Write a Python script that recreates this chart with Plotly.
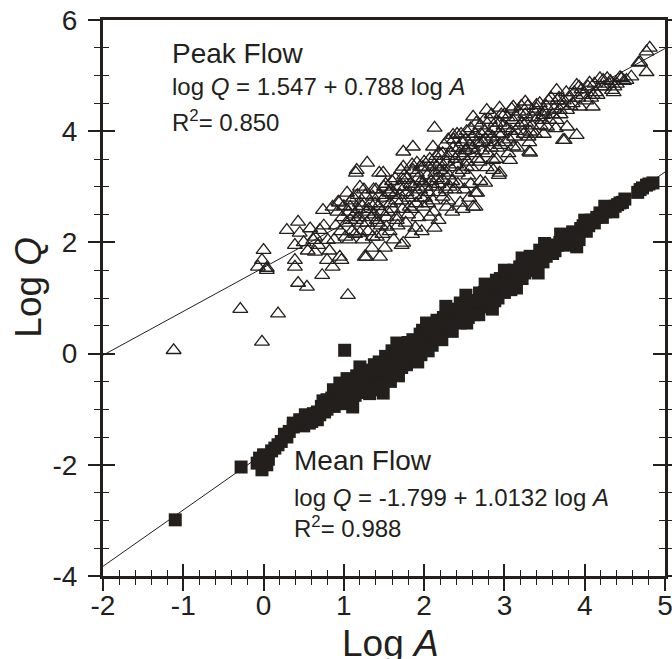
import plotly.graph_objects as go

# ---------------- data ----------------
peak_points = [
    (-1.12, 0.06), (-0.29, 0.80), (-0.02, 0.21), (0.18, 0.72), (1.05, 1.05),
    (0.00, 1.86), (-0.02, 1.68), (-0.07, 1.56), (0.04, 1.54), (0.04, 1.50),
    (0.29, 2.22), (0.39, 1.56), (0.43, 1.27), (0.54, 1.20), (0.45, 2.17),
    (0.43, 2.37), (0.62, 2.04), (0.39, 1.95), (0.39, 1.68), (0.64, 1.83),
    (0.64, 2.10), (0.73, 1.41), (0.79, 1.68), (0.86, 1.56), (0.95, 1.74),
    (0.80, 2.04), (0.74, 2.58), (0.86, 2.64), (0.70, 2.22), (0.93, 2.73),
    (0.97, 1.68), (0.94, 2.71),
    (1.16, 3.30), (1.29, 3.43), (1.08, 2.40), (1.20, 2.17), (1.26, 1.74),
    (1.35, 1.90), (1.45, 1.74), (1.51, 1.90), (1.72, 1.95), (1.41, 2.10),
    (1.41, 2.40), (1.53, 2.28), (1.66, 2.46), (1.89, 2.26), (2.13, 2.26),
    (2.07, 2.46), (1.99, 2.64), (1.82, 2.64), (1.49, 3.25), (1.74, 3.36),
    (1.91, 3.43), (2.16, 3.36), (1.57, 2.89), (1.36, 2.82), (1.20, 3.00),
    (1.04, 2.89), (1.08, 2.64), (1.74, 3.12), (1.99, 3.07), (2.23, 3.12),
    (2.23, 2.82), (2.28, 2.64), (1.20, 2.71), (1.74, 1.99), (1.74, 3.63),
    (1.86, 3.72), (1.44, 3.25), (1.15, 3.25), (1.28, 1.74),
    (2.13, 4.06), (2.61, 4.26), (2.78, 4.38), (2.94, 4.42), (3.11, 4.44),
    (3.26, 4.53), (3.40, 4.47), (3.65, 4.74), (3.90, 4.83), (4.06, 4.87),
    (3.73, 3.84), (3.90, 3.93), (3.65, 4.20), (3.48, 4.29), (3.32, 3.99),
    (3.32, 3.61), (3.11, 3.72), (2.94, 3.25), (2.76, 3.07), (2.66, 2.89),
    (2.45, 2.71), (2.36, 3.93), (2.11, 3.72), (2.53, 3.66), (2.69, 3.79),
    (2.86, 3.48), (3.07, 3.48), (2.53, 3.36), (2.20, 3.30), (1.95, 3.36),
    (2.32, 3.00), (2.61, 2.64), (3.53, 4.08), (3.69, 4.38), (2.64, 2.64),
    (2.93, 3.21), (3.31, 3.63), (2.64, 2.89),
    (4.81, 5.50), (4.77, 5.43), (4.69, 5.24), (4.77, 5.06), (4.44, 4.97),
    (4.28, 4.95), (4.19, 4.95), (4.34, 4.74), (4.10, 4.65), (3.94, 4.44),
    (4.10, 4.44), (3.78, 4.38), (3.78, 4.08), (3.75, 3.84), (4.67, 5.23),
    (4.23, 4.92), (3.93, 4.80), (4.49, 4.90), (4.58, 4.98), (4.40, 4.85),
    (0.90, 2.30), (0.98, 2.45), (1.02, 2.10), (1.06, 2.55), (1.10, 2.20),
    (1.12, 2.80), (1.15, 2.40), (1.18, 2.60), (1.22, 2.35), (1.25, 2.95),
    (1.28, 2.55), (1.30, 2.20), (1.33, 2.70), (1.38, 2.50), (1.40, 2.95),
    (1.43, 2.65), (1.46, 2.30), (1.50, 2.80), (1.52, 3.05), (1.55, 2.55),
    (1.58, 2.70), (1.60, 3.10), (1.63, 2.85), (1.66, 2.40), (1.69, 3.00),
    (1.72, 2.75), (1.75, 3.20), (1.78, 2.90), (1.80, 2.50), (1.83, 3.05),
    (1.86, 3.30), (1.88, 2.85), (1.92, 3.15), (1.95, 2.95), (1.98, 3.35),
    (2.01, 2.80), (2.04, 3.20), (2.07, 3.50), (2.10, 3.00), (2.13, 3.40),
    (2.16, 3.15), (2.19, 3.60), (2.22, 3.35), (2.25, 3.75), (2.28, 3.45),
    (2.31, 3.20), (2.34, 3.60), (2.37, 3.85), (2.40, 3.40), (2.43, 3.70),
    (2.46, 3.95), (2.49, 3.55), (2.52, 3.85), (2.55, 3.20), (2.58, 4.05),
    (2.61, 3.70), (2.64, 3.95), (2.67, 3.50), (2.70, 4.10), (2.73, 3.80),
    (2.76, 4.00), (2.79, 3.60), (2.82, 4.20), (2.85, 3.90), (2.88, 4.05),
    (2.91, 3.70), (2.94, 4.15), (2.97, 3.95), (3.00, 4.30), (3.03, 4.05),
    (3.06, 3.85), (3.10, 4.20), (3.14, 4.00), (3.18, 4.35), (3.22, 4.15),
    (3.26, 4.30), (3.30, 3.90), (3.35, 4.25), (3.40, 4.40), (3.45, 4.10),
    (3.50, 4.35), (3.55, 4.55), (3.60, 4.30), (3.66, 4.55), (3.72, 4.45),
    (3.80, 4.60), (3.85, 4.50), (3.98, 4.65), (4.02, 4.55), (4.14, 4.70),
    (4.20, 4.80), (4.30, 4.85), (4.37, 4.80),
    (2.05, 2.70), (2.12, 2.55), (2.18, 2.90), (2.30, 2.75), (2.38, 2.95),
    (2.42, 3.05), (2.50, 2.95), (2.56, 2.80),
    (0.50, 2.00), (0.55, 1.85), (0.58, 2.25), (0.68, 1.95), (0.75, 2.30),
    (0.82, 1.85), (0.88, 2.05),
    (0.92, 2.55), (0.96, 2.20), (1.00, 2.65), (1.03, 2.35), (1.07, 2.05),
    (1.09, 2.75), (1.13, 2.50), (1.14, 2.15), (1.17, 2.85), (1.19, 2.45),
    (1.23, 2.65), (1.24, 2.05), (1.27, 2.85), (1.29, 2.35), (1.31, 2.60),
    (1.34, 2.45), (1.36, 2.10), (1.37, 2.95), (1.39, 2.70), (1.42, 2.35),
    (1.44, 2.85), (1.47, 2.55), (1.48, 2.15), (1.50, 3.00),
    (1.53, 2.45), (1.56, 2.90), (1.57, 2.20), (1.59, 2.95), (1.61, 2.60),
    (1.64, 3.15), (1.65, 2.75), (1.67, 2.30), (1.70, 2.85), (1.71, 3.30),
    (1.73, 2.60), (1.76, 3.00), (1.77, 2.35), (1.79, 3.15), (1.81, 2.80),
    (1.84, 2.60), (1.85, 3.40), (1.87, 3.00), (1.90, 2.70), (1.91, 3.25),
    (1.93, 2.45), (1.96, 3.10), (1.97, 2.80), (2.00, 3.45), (2.02, 3.00),
    (2.05, 2.90), (2.06, 3.35), (2.09, 3.10), (2.11, 2.75), (2.14, 3.25),
    (2.15, 3.55), (2.18, 3.05), (2.20, 3.45),
    (2.23, 3.60), (2.24, 3.25), (2.27, 2.95), (2.29, 3.55), (2.30, 3.85),
    (2.33, 3.35), (2.35, 3.10), (2.36, 3.70), (2.39, 3.50), (2.41, 3.95),
    (2.42, 3.25), (2.44, 3.60), (2.47, 3.80), (2.48, 3.30), (2.51, 3.65),
    (2.53, 4.00), (2.54, 3.45), (2.57, 3.75), (2.59, 3.35), (2.60, 3.90),
    (2.63, 3.60), (2.65, 4.15), (2.66, 3.80), (2.69, 3.45), (2.71, 3.95),
    (2.72, 3.65), (2.75, 4.20), (2.77, 3.85), (2.78, 3.35), (2.81, 3.95),
    (2.83, 3.70), (2.84, 4.30), (2.87, 3.80), (2.89, 4.15), (2.90, 3.50),
    (2.93, 3.95), (2.95, 3.75), (2.96, 4.30), (2.99, 4.10),
    (3.01, 3.80), (3.04, 4.25), (3.05, 3.60), (3.08, 4.00), (3.09, 4.40),
    (3.12, 3.90), (3.15, 4.25), (3.16, 3.70), (3.19, 4.10), (3.21, 4.45),
    (3.24, 3.95), (3.27, 4.15), (3.29, 4.45), (3.31, 3.80), (3.34, 4.10),
    (3.37, 4.35), (3.38, 3.95), (3.42, 4.25), (3.44, 4.50), (3.47, 4.20),
    (3.49, 3.95), (3.52, 4.45), (3.56, 4.20), (3.58, 4.60), (3.62, 4.40),
    (3.64, 4.05), (3.68, 4.60), (3.70, 4.30), (3.74, 4.55), (3.77, 4.70),
    (3.82, 4.45), (3.87, 4.70), (3.92, 4.60), (3.96, 4.75),
    (4.04, 4.80), (4.08, 4.60), (4.12, 4.85), (4.16, 4.65), (4.24, 4.80),
    (4.32, 4.90), (4.36, 4.70), (4.46, 4.95), (4.52, 4.92),
    (1.62, 2.05), (1.85, 2.15), (1.97, 2.20), (2.18, 2.40), (2.35, 2.55),
    (2.48, 2.60), (2.58, 3.05), (2.70, 3.10), (2.86, 3.30),
]

mean_points = [
    (-1.10, -2.99), (-0.28, -2.04), (-0.08, -1.97), (0.00, -1.82), (0.04, -2.00),
    (-0.02, -2.09), (0.06, -1.90), (-0.05, -1.88),
    (0.18, -1.64), (0.29, -1.50), (0.37, -1.32), (0.37, -1.25), (0.45, -1.19),
    (0.50, -1.30), (0.55, -1.12), (0.60, -1.22), (0.67, -1.19), (0.67, -1.05),
    (0.72, -0.95), (0.79, -0.83), (0.79, -1.00), (0.85, -0.80), (0.90, -0.70),
    (0.95, -0.53), (0.95, -0.85), (1.01, 0.06), (1.02, -0.60), (1.05, -0.80),
    (1.11, -0.96), (1.11, -0.55), (1.16, -0.40), (1.20, -0.24), (1.22, -0.70),
    (1.28, -0.50), (1.30, -0.30), (1.35, -0.60), (1.38, -0.20), (1.42, -0.45),
    (1.49, -0.24), (1.49, -0.71), (1.52, -0.05), (1.55, -0.40), (1.60, 0.05),
    (1.62, -0.30), (1.66, 0.19), (1.70, -0.10), (1.75, 0.10), (1.78, -0.20),
    (1.82, -0.06), (1.86, 0.25), (1.90, 0.05), (1.95, 0.35), (1.98, 0.42),
    (2.00, 0.10), (2.03, 0.55), (2.08, 0.25), (2.12, 0.45), (2.16, 0.60),
    (2.20, 0.35), (2.25, 0.55), (2.28, 0.73), (2.32, 0.45), (2.38, 0.70),
    (2.45, 0.91), (2.45, 0.55), (2.50, 0.75), (2.53, 0.55), (2.58, 0.95),
    (2.62, 0.70), (2.69, 1.09), (2.72, 0.85), (2.78, 0.84), (2.82, 1.15),
    (2.90, 1.32), (2.92, 1.00), (2.98, 1.20), (3.05, 1.40), (3.08, 1.15),
    (3.14, 1.45), (3.19, 1.56), (3.22, 1.35), (3.28, 1.60), (3.35, 1.50),
    (3.40, 1.50), (3.44, 1.86), (3.48, 1.65), (3.55, 1.90), (3.60, 1.80),
    (3.66, 1.95), (3.72, 2.05), (3.78, 1.95), (3.85, 2.19), (3.90, 1.92),
    (3.95, 2.25), (4.02, 2.20), (4.08, 2.40), (4.12, 2.35), (4.19, 2.53),
    (4.26, 2.55), (4.32, 2.62), (4.38, 2.65), (4.44, 2.71), (4.50, 2.78),
    (4.66, 2.90), (4.72, 2.98), (4.77, 3.03), (4.85, 3.07),
    (0.10, -1.75), (0.14, -1.70), (0.22, -1.58), (0.26, -1.45), (0.32, -1.40),
    (0.41, -1.28), (0.48, -1.20), (0.52, -1.10), (0.57, -1.25), (0.62, -1.08),
    (0.70, -1.10), (0.74, -0.85), (0.76, -1.05), (0.82, -0.92), (0.87, -0.65),
    (0.88, -0.95), (0.92, -0.80), (0.98, -0.70), (1.00, -0.90), (1.04, -0.45),
    (1.08, -0.65), (1.14, -0.75), (1.18, -0.55), (1.24, -0.35), (1.26, -0.65),
    (1.32, -0.45), (1.36, -0.30), (1.40, -0.65), (1.44, -0.15), (1.46, -0.55),
    (1.53, -0.30), (1.57, -0.10), (1.58, -0.50), (1.64, -0.15), (1.68, 0.05),
    (1.72, -0.25), (1.77, 0.00), (1.80, 0.20), (1.84, -0.05), (1.88, 0.15),
    (1.93, 0.20), (1.96, -0.02), (2.01, 0.30), (2.05, 0.05), (2.06, 0.45),
    (2.10, 0.15), (2.14, 0.30), (2.18, 0.50), (2.22, 0.25), (2.24, 0.65),
    (2.30, 0.55), (2.35, 0.40), (2.36, 0.80), (2.41, 0.60), (2.48, 0.85),
    (2.55, 0.65), (2.56, 0.95), (2.60, 0.80), (2.66, 0.95), (2.68, 0.70),
    (2.75, 1.10), (2.80, 0.95), (2.86, 1.20), (2.88, 0.95), (2.95, 1.35),
    (3.00, 1.10), (3.02, 1.30), (3.10, 1.30), (3.12, 1.50), (3.17, 1.35),
    (3.25, 1.45), (3.26, 1.65), (3.32, 1.75), (3.38, 1.65), (3.46, 1.80),
    (3.52, 1.75), (3.58, 1.95), (3.63, 1.85), (3.69, 2.00), (3.75, 2.10),
    (3.81, 2.05), (3.88, 2.10), (3.93, 2.05), (3.98, 2.30), (4.05, 2.30),
    (4.15, 2.45), (4.22, 2.45), (4.29, 2.60), (4.35, 2.55), (4.41, 2.68),
    (4.47, 2.72), (4.69, 2.95), (4.80, 3.05),
    (2.27, 0.85), (2.52, 1.05), (2.76, 1.25), (3.00, 1.50), (3.22, 1.72),
    (3.50, 1.98), (3.70, 2.15), (4.00, 2.40), (4.25, 2.65), (2.85, 0.80),
    (3.15, 1.18), (3.42, 1.45), (1.92, -0.15), (1.68, -0.40), (1.32, -0.72),
]

peak_intercept, peak_slope = 1.547, 0.788
mean_intercept, mean_slope = -1.799, 1.0132
fit_x = [-2, 5]

x_tickvals = [-2, -1, 0, 1, 2, 3, 4, 5]
x_ticktext = ["-2", "-1", "0", "1", "2", "3", "4", "5"]
y_tickvals = [-4, -2, 0, 2, 4, 6]
y_ticktext = ["-4", "-2", "0", "2", "4", "6"]

# ---------------- figure ----------------
INK = "#231f1c"
FONT = "Liberation Sans, Arial, sans-serif"

peak_x = [p[0] for p in peak_points]
peak_y = [p[1] for p in peak_points]
mean_x = [p[0] for p in mean_points]
mean_y = [p[1] for p in mean_points]

fig = go.Figure()
fig.add_trace(go.Scatter(
    x=fit_x, y=[peak_intercept + peak_slope * v for v in fit_x],
    mode="lines", line=dict(color=INK, width=1), showlegend=False, hoverinfo="skip"))
fig.add_trace(go.Scatter(
    x=fit_x, y=[mean_intercept + mean_slope * v for v in fit_x],
    mode="lines", line=dict(color=INK, width=1), showlegend=False, hoverinfo="skip"))
fig.add_trace(go.Scatter(
    x=peak_x, y=peak_y, mode="markers", showlegend=False,
    marker=dict(symbol="triangle-up-open", size=13, color=INK, line=dict(color=INK, width=1.3))))
fig.add_trace(go.Scatter(
    x=mean_x, y=mean_y, mode="markers", showlegend=False,
    marker=dict(symbol="square", size=13, color=INK, line=dict(width=0))))

tickfont = dict(family=FONT, size=28, color=INK)
common_x = dict(range=[-2, 5], autorange=False, tickmode="array", tickvals=x_tickvals,
                ticktext=x_ticktext, ticklen=12, tickwidth=1.5, tickcolor=INK,
                showgrid=False, zeroline=False, fixedrange=True, automargin=False)
common_y = dict(range=[-4, 6], autorange=False, tickmode="array", tickvals=y_tickvals,
                ticktext=y_ticktext, ticklen=12, tickwidth=1.5, tickcolor=INK,
                showgrid=False, zeroline=False, fixedrange=True, automargin=False)

fig.update_layout(
    width=672, height=659,
    margin=dict(l=103, r=7, t=20, b=83),
    paper_bgcolor="white", plot_bgcolor="white",
    font=dict(family=FONT, color=INK),
    xaxis=dict(**common_x, ticks="outside", tickfont=tickfont,
               ticklabeloverflow="allow", ticklabelstandoff=-10,
               showline=True, linewidth=3, linecolor=INK, mirror=True,
               minor=dict(tickmode="linear", tick0=-2, dtick=0.2, ticks="outside",
                          ticklen=6, tickwidth=1.2, tickcolor=INK, showgrid=False)),
    xaxis2=dict(**common_x, ticks="inside", showticklabels=False, overlaying="x",
                anchor="y", side="bottom", showline=False,
                minor=dict(tickmode="linear", tick0=-2, dtick=0.2, ticks="inside",
                           ticklen=6, tickwidth=1.2, tickcolor=INK, showgrid=False)),
    yaxis=dict(**common_y, ticks="outside", tickfont=tickfont,
               ticklabeloverflow="allow", ticklabelstandoff=5,
               showline=True, linewidth=3, linecolor=INK, mirror="ticks",
               minor=dict(tickmode="linear", tick0=-4, dtick=0.5, ticks="outside",
                          ticklen=6, tickwidth=1.2, tickcolor=INK, showgrid=False)),
    yaxis2=dict(**common_y, ticks="inside", showticklabels=False, overlaying="y",
                anchor="x", side="left", showline=True, linewidth=3, linecolor=INK,
                mirror="ticks",
                minor=dict(tickmode="linear", tick0=-4, dtick=0.5, ticks="inside",
                           ticklen=6, tickwidth=1.2, tickcolor=INK, showgrid=False)),
)

# empty trace so the overlay axes are realised
fig.add_trace(go.Scatter(x=[None], y=[None], xaxis="x2", yaxis="y2", showlegend=False,
                         hoverinfo="skip"))

def note(x, y, text, size):
    fig.add_annotation(x=x, y=y, xref="x", yref="y", text=text, showarrow=False,
                       xanchor="left", yanchor="middle",
                       font=dict(family=FONT, size=size, color=INK))

note(-1.17, 5.40, "Peak Flow", 28)
note(-1.17, 4.80, "log <i>Q</i> = 1.547 + 0.788 log <i>A</i>", 24)
note(-1.17, 4.18, "R<sup>2</sup>= 0.850", 24)
note(0.35, -1.93, "Mean Flow", 28)
note(0.35, -2.58, "log <i>Q</i> = -1.799 + 1.0132 log <i>A</i>", 24)
note(0.35, -3.12, "R<sup>2</sup>= 0.988", 24)

fig.add_annotation(x=0.512, y=-0.122, xref="paper", yref="paper", text="Log <i>A</i>",
                   showarrow=False, xanchor="center", yanchor="middle",
                   font=dict(family=FONT, size=37, color=INK))
fig.add_annotation(x=-0.132, y=0.52, xref="paper", yref="paper", text="Log <i>Q</i>",
                   showarrow=False, textangle=-90, xanchor="center", yanchor="middle",
                   font=dict(family=FONT, size=37, color=INK))

fig.write_html(
    "out.html",
    config={"displayModeBar": False},
    post_script="document.body.style.margin='0';document.body.style.overflow='hidden';",
)
